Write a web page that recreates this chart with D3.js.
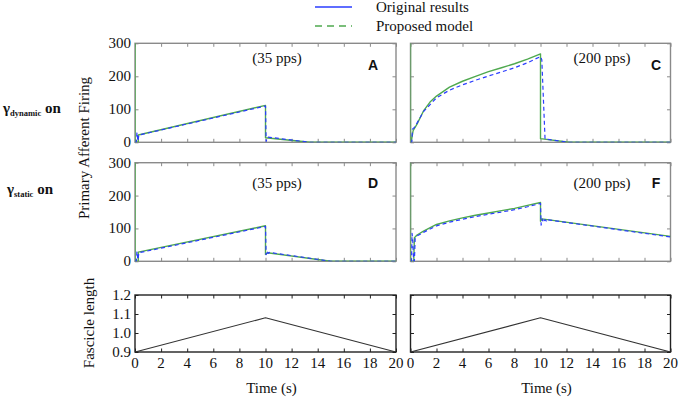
<!DOCTYPE html>
<html><head><meta charset="utf-8">
<script src="https://cdn.jsdelivr.net/npm/d3@7"></script>
<style>
html,body{margin:0;padding:0;background:#fff;}
svg{display:block;}
</style></head>
<body><svg id="chart" width="680" height="399"></svg>
<script>
// ---------- DATA ----------
const xTicks = [0,2,4,6,8,10,12,14,16,18,20];
const firingTicks = [0,100,200,300];
const lengthTicks = [0.9,1.0,1.1,1.2];
const lengthTickLabels = ["0.9","1.0","1.1","1.2"];

// Panel A (dynamic, 35 pps)
const aTimeProp = [0,0,0.25,0.25,10,10,13.4,20];
const aValProp  = [400,0,0,22,112,14,0,0];
const aTimeOrig = [0,0.1,0.15,0.22,0.3,10,10.05,10.15,13.4,20];
const aValOrig  = [0,0,30,4,22,110,3,16,0,0];

// Panel C (dynamic, 200 pps)
const cTimeProp = [0,0,0.05,0.2,0.5,1,1.5,2,3,4,5,6,7,8,9,10,10,12.2,20];
const cValProp  = [400,0,0,35,55,95,122,140,167,185,200,214,226,238,252,268,11,0,0];
const cTimeOrig = [0,0.1,0.15,0.3,0.5,1,2,3,4,5,6,7,8,9,10,10.1,10.35,12.2,20];
const cValOrig  = [0,0,40,45,58,93,135,158,174,188,201,213,226,241,260,250,10,0,0];

// Panel D (static, 35 pps)
const dTimeProp = [0,0,0.25,0.25,10,10,10.15,15,20];
const dValProp  = [400,0,0,28,108,21,26,0,0];
const dTimeOrig = [0,0.1,0.15,0.22,0.3,10,10.05,10.12,10.2,10.3,15,20];
const dValOrig  = [0,0,30,5,26,106,20,32,24,27,0,0];

// Panel F (static, 200 pps)
const fTimeProp = [0,0,0.25,0.3,0.5,1,2,3,4,5,6,7,8,9,10,10,10.1,20];
const fValProp  = [400,0,0,72,80,92,112,123,132,140,147,154,161,170,179,122,129,76];
const fTimeOrig = [0,0.08,0.12,0.18,0.24,0.3,0.36,0.5,1,2,3,4,5,6,7,8,9,10,10.05,10.15,10.25,10.35,10.5,10.6,20];
const fValOrig  = [0,0,85,60,0,0,70,77,88,108,119,128,136,143,150,157,166,176,110,128,118,127,120,126,74];

// Fascicle length
const lenTime = [0,10,20];
const lenVal  = [0.9,1.08,0.9];

// Legend / labels
const legendLabels = ["Original results","Proposed model"];
const rateLabels = ["(35 pps)","(200 pps)","(35 pps)","(200 pps)"];
const panelLetters = ["A","C","D","F"];

// ---------- LAYOUT ----------
const SERIF = "'Liberation Serif', 'Times New Roman', Times, serif";
const SANS = "'Liberation Sans', Arial, sans-serif";
const svg = d3.select("#chart");
const colX = [[135,396],[410.5,670.5]];
const rowY = [[43.3,142.3],[162.7,261.3],[295,352]];
const GREEN = "#4fa94f", BLUE = "#2a3cff", FRAME = "#8a8a8a";

const defs = svg.append("defs");
let clipId = 0;

function txt(parent){
  return parent.append("text").attr("font-family",SERIF).attr("fill","#111");
}

function makePanel(col,row,yDomain,frameColor){
  const x = d3.scaleLinear().domain([0,20]).range(colX[col]);
  const y = d3.scaleLinear().domain(yDomain).range([rowY[row][1],rowY[row][0]]);
  const g = svg.append("g");
  const id = "clip"+(clipId++);
  defs.append("clipPath").attr("id",id).append("rect")
    .attr("x",colX[col][0]).attr("y",rowY[row][0])
    .attr("width",colX[col][1]-colX[col][0]).attr("height",rowY[row][1]-rowY[row][0]);
  return {x,y,g,clip:"url(#"+id+")",frameColor};
}

function drawFrame(p,yTicks,tickLen){
  const {x,y,g,frameColor} = p;
  const fmt = ()=>"";
  const style = s=>{s.select(".domain").remove();s.selectAll("line").attr("stroke",frameColor);};
  g.append("g").attr("transform",`translate(0,${y.range()[0]})`)
    .call(d3.axisBottom(x).tickValues(xTicks).tickSize(-tickLen).tickFormat(fmt)).call(style);
  g.append("g").attr("transform",`translate(0,${y.range()[1]})`)
    .call(d3.axisTop(x).tickValues(xTicks).tickSize(-tickLen).tickFormat(fmt)).call(style);
  g.append("g").attr("transform",`translate(${x.range()[0]},0)`)
    .call(d3.axisLeft(y).tickValues(yTicks).tickSize(-tickLen).tickFormat(fmt)).call(style);
  g.append("g").attr("transform",`translate(${x.range()[1]},0)`)
    .call(d3.axisRight(y).tickValues(yTicks).tickSize(-tickLen).tickFormat(fmt)).call(style);
  g.append("rect").attr("x",x.range()[0]).attr("y",y.range()[1])
    .attr("width",x.range()[1]-x.range()[0]).attr("height",y.range()[0]-y.range()[1])
    .attr("fill","none").attr("stroke",frameColor).attr("stroke-width",1.4);
}

function drawSeries(p,ts,vs,color,width,dash){
  const pts = ts.map((t,i)=>[t,vs[i]]);
  const line = d3.line().x(d=>p.x(d[0])).y(d=>p.y(d[1]));
  p.g.append("path").attr("d",line(pts)).attr("clip-path",p.clip)
    .attr("fill","none").attr("stroke",color).attr("stroke-width",width)
    .attr("stroke-dasharray",dash||null).attr("stroke-linejoin","round");
}

function yLabels(p,ticks,labels){
  ticks.forEach((d,i)=>{
    txt(p.g).attr("x",p.x.range()[0]-4).attr("y",p.y(d)+5)
      .attr("text-anchor","end").attr("font-size",15)
      .text(labels?labels[i]:d);
  });
}

const firingPanels = [
  [0,0,aTimeProp,aValProp,aTimeOrig,aValOrig],
  [1,0,cTimeProp,cValProp,cTimeOrig,cValOrig],
  [0,1,dTimeProp,dValProp,dTimeOrig,dValOrig],
  [1,1,fTimeProp,fValProp,fTimeOrig,fValOrig],
];
firingPanels.forEach((cfg,i)=>{
  const [col,row,tp,vp,to,vo] = cfg;
  const p = makePanel(col,row,[0,300],FRAME);
  drawFrame(p,firingTicks,3.5);
  drawSeries(p,tp,vp,GREEN,1.4,null);
  drawSeries(p,to,vo,BLUE,1.2,"4,3");
  if(col===0) yLabels(p,firingTicks);
  const cx = col===0 ? 277 : 602;
  const cy = row===0 ? 63 : 188;
  txt(p.g).attr("x",cx).attr("y",cy).attr("text-anchor","middle")
    .attr("font-size",15).text(rateLabels[i]);
  p.g.append("text").attr("x",col===0?373:656).attr("y",row===0?70:187.5)
    .attr("text-anchor","middle").attr("font-size",14).attr("font-weight","bold")
    .attr("font-family",SANS).attr("fill","#111").text(panelLetters[i]);
});

[0,1].forEach(col=>{
  const p = makePanel(col,2,[0.9,1.2],"#222");
  drawFrame(p,lengthTicks,3.5);
  drawSeries(p,lenTime,lenVal,"#333",1.1,null);
  if(col===0) yLabels(p,lengthTicks,lengthTickLabels);
  xTicks.forEach(d=>{
    txt(p.g).attr("x",p.x(d)).attr("y",368).attr("text-anchor","middle")
      .attr("font-size",15).text(d);
  });
  txt(p.g).attr("x",(p.x.range()[0]+p.x.range()[1])/2+6).attr("y",393)
    .attr("text-anchor","middle").attr("font-size",15).text("Time (s)");
});

// Axis titles
txt(svg).attr("transform","translate(89,148) rotate(-90)")
  .attr("text-anchor","middle").attr("font-size",15).text("Primary Afferent Firing");
txt(svg).attr("transform","translate(94,323) rotate(-90)")
  .attr("text-anchor","middle").attr("font-size",15).text("Fascicle length");

// Row labels
function gammaLabel(xp,yp,sub){
  const t = txt(svg).attr("x",xp).attr("y",yp).attr("font-size",15)
    .attr("font-weight","bold");
  t.append("tspan").text("γ");
  t.append("tspan").attr("font-size",8.5).attr("dy",3).text(sub);
  t.append("tspan").attr("dy",-3).text(" on");
}
gammaLabel(3,113,"dynamic");
gammaLabel(7,194,"static");

// Legend
const lg = svg.append("g");
const legendStyles = [[BLUE,null],[GREEN,"7,5"]];
legendLabels.forEach((lab,i)=>{
  const yy = i===0 ? 7 : 26;
  lg.append("line").attr("x1",315).attr("x2",352).attr("y1",yy).attr("y2",yy)
    .attr("stroke",legendStyles[i][0]).attr("stroke-width",1.5)
    .attr("stroke-dasharray",legendStyles[i][1]);
  txt(lg).attr("x",376).attr("y",yy+5).attr("font-size",15).text(lab);
});
</script></body></html>
